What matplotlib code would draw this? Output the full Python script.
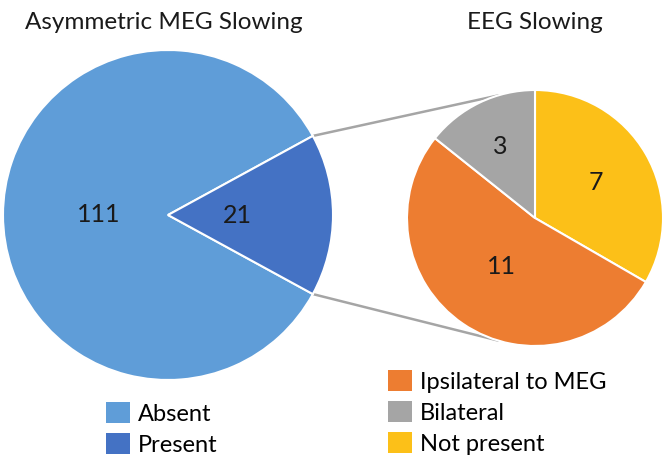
import numpy as np
import matplotlib
matplotlib.use('Agg')
import matplotlib.pyplot as plt
from matplotlib.patches import Patch

plt.rcParams['font.family'] = ['Lato', 'DejaVu Sans']

# data
meg_labels = ['Absent', 'Present']
meg_values = [111, 21]
meg_colors = ['#5F9DD8', '#4472C4']

eeg_labels = ['Ipsilateral to MEG', 'Bilateral', 'Not present']
eeg_values = [11, 3, 7]
eeg_colors = ['#ED7D31', '#A5A5A5', '#FCC018']

W, H = 671, 465
fig = plt.figure(figsize=(W / 100, H / 100), dpi=100)
ax = fig.add_axes([0, 0, 1, 1])

# left pie: "Present" slice centred on the right side
c1, r1 = (168, 250), 165
half = 360 * meg_values[1] / sum(meg_values) / 2
w1, _ = ax.pie(meg_values, colors=meg_colors, startangle=half, center=c1, radius=r1,
               wedgeprops=dict(edgecolor='white', linewidth=1.5), frame=True)
for w, v in zip(w1, meg_values):
    a = np.deg2rad((w.theta1 + w.theta2) / 2)
    ax.text(c1[0] + 0.42 * r1 * np.cos(a), c1[1] + 0.42 * r1 * np.sin(a), str(v),
            ha='center', va='center', fontsize=18, color='#1a1a1a')

# right pie: order clockwise from top = Not present, Ipsilateral, Bilateral
c2, r2 = (535, 247), 128
order = [2, 0, 1]
w2, _ = ax.pie([eeg_values[i] for i in order], colors=[eeg_colors[i] for i in order],
               startangle=90, counterclock=False, center=c2, radius=r2,
               wedgeprops=dict(edgecolor='white', linewidth=1.5), frame=True)
dists = [0.55, 0.46, 0.62]
for w, i, d in zip(w2, order, dists):
    a = np.deg2rad((w.theta1 + w.theta2) / 2)
    ax.text(c2[0] + d * r2 * np.cos(a), c2[1] + d * r2 * np.sin(a), str(eeg_values[i]),
            ha='center', va='center', fontsize=18, color='#1a1a1a')

ax.set_xlim(0, W)
ax.set_ylim(0, H)
ax.set_aspect('equal')
ax.axis('off')

# connector lines
for sgn in (1, -1):
    a1 = np.deg2rad(sgn * half)
    a2 = np.deg2rad(sgn * 107)
    ax.plot([c1[0] + r1 * np.cos(a1), c2[0] + r2 * np.cos(a2)],
            [c1[1] + r1 * np.sin(a1), c2[1] + r2 * np.sin(a2)],
            color='#A5A5A5', lw=1.8, zorder=0)

# titles
ax.text(164, 442, 'Asymmetric MEG Slowing', ha='center', va='center', fontsize=17.5, color='#1a1a1a')
ax.text(535, 442, 'EEG Slowing', ha='center', va='center', fontsize=17.5, color='#1a1a1a')

# legends
kw = dict(loc='upper left', frameon=False, fontsize=17, handlelength=1.0, handleheight=1.0,
          handletextpad=0.35, labelspacing=0.36, borderpad=0, borderaxespad=0)
h1 = [Patch(facecolor=c) for c in meg_colors]
leg1 = ax.legend(h1, meg_labels, bbox_to_anchor=(106 / W, 63 / H), **kw)
ax.add_artist(leg1)
h2 = [Patch(facecolor=c) for c in eeg_colors]
ax.legend(h2, eeg_labels, bbox_to_anchor=(388 / W, 95 / H), **kw)

fig.savefig('out.png', dpi=100, facecolor='white')
